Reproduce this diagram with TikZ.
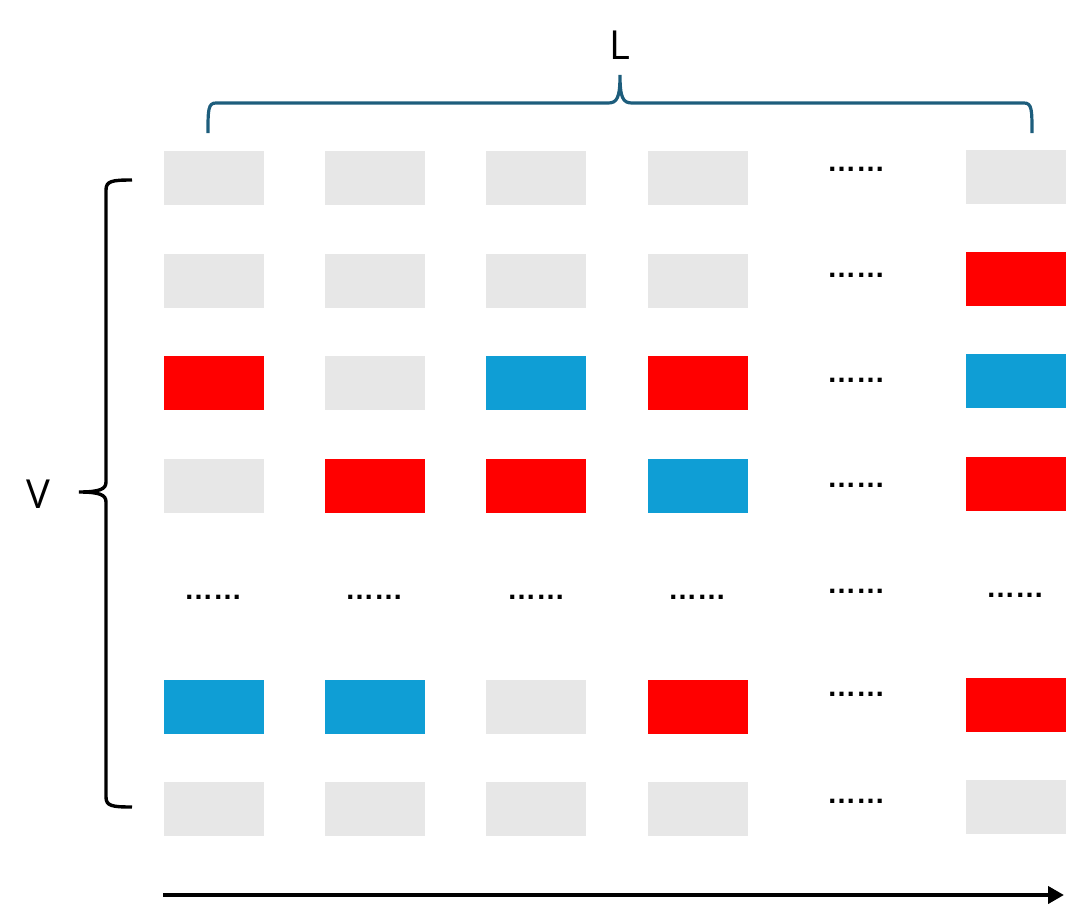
\documentclass[tikz,border=0pt]{standalone}
\usepackage{fontspec}
\setmainfont{Open Sans}
\newfontfamily\dotfont{Liberation Sans}
\usetikzlibrary{arrows.meta}
\definecolor{cellgray}{HTML}{E7E7E7}
\definecolor{cellred}{HTML}{FF0000}
\definecolor{cellblue}{HTML}{0F9ED5}
\definecolor{bracecol}{HTML}{1D5D7C}
\tikzset{
  cell/.style={minimum width=100pt, minimum height=54pt, inner sep=0pt, draw=none},
  g/.style={cell, fill=cellgray},
  r/.style={cell, fill=cellred},
  b/.style={cell, fill=cellblue},
  dots/.style={font=\dotfont\bfseries\fontsize{29}{30}\selectfont, inner sep=0pt, anchor=base},
  lbl/.style={font=\fontsize{40}{44}\selectfont, inner sep=0pt},
}
\begin{document}
\begin{tikzpicture}[x=1pt,y=-1pt]
\useasboundingbox (0,0) rectangle (1080,913);
% columns 1-4
\foreach \c/\x in {1/214,2/375,3/536,4/698}{
  \foreach \rr/\y in {1/178,2/281,3/383,4/486,6/707,7/809}{
    \coordinate (p-\rr-\c) at (\x,\y);
  }
}
\node[g] (c11) at (p-1-1) {}; \node[g] (c12) at (p-1-2) {}; \node[g] (c13) at (p-1-3) {}; \node[g] (c14) at (p-1-4) {};
\node[g] (c21) at (p-2-1) {}; \node[g] (c22) at (p-2-2) {}; \node[g] (c23) at (p-2-3) {}; \node[g] (c24) at (p-2-4) {};
\node[r] (c31) at (p-3-1) {}; \node[g] (c32) at (p-3-2) {}; \node[b] (c33) at (p-3-3) {}; \node[r] (c34) at (p-3-4) {};
\node[g] (c41) at (p-4-1) {}; \node[r] (c42) at (p-4-2) {}; \node[r] (c43) at (p-4-3) {}; \node[b] (c44) at (p-4-4) {};
\node[b] (c61) at (p-6-1) {}; \node[b] (c62) at (p-6-2) {}; \node[g] (c63) at (p-6-3) {}; \node[r] (c64) at (p-6-4) {};
\node[g] (c71) at (p-7-1) {}; \node[g] (c72) at (p-7-2) {}; \node[g] (c73) at (p-7-3) {}; \node[g] (c74) at (p-7-4) {};
% last column
\node[g] (c16) at (1015.5,176.5) {};
\node[r] (c26) at (1015.5,279) {};
\node[b] (c36) at (1015.5,381) {};
\node[r] (c46) at (1015.5,484) {};
\node[r] (c66) at (1015.5,705) {};
\node[g] (c76) at (1015.5,807) {};
% dots column 5
\node[dots] (d15) at (856,171) {……};
\node[dots] (d25) at (856,277) {……};
\node[dots] (d35) at (856,382) {……};
\node[dots] (d45) at (856,487) {……};
\node[dots] (d55) at (856,593) {……};
\node[dots] (d65) at (856,696) {……};
\node[dots] (d75) at (856,803) {……};
% dots row 5
\node[dots] (d51) at (213,599) {……};
\node[dots] (d52) at (374,599) {……};
\node[dots] (d53) at (536,599) {……};
\node[dots] (d54) at (697,599) {……};
\node[dots] (d56) at (1015,597) {……};
% top brace
\coordinate (tl) at (208,133);
\coordinate (tm) at (620,75);
\coordinate (tr) at (1032,133);
\draw[bracecol, line width=3.2pt]
  (tl) .. controls (208,110) and (208,103) .. (216,103) -- (608,103)
  .. controls (617,103) and (620,98) .. (tm)
  .. controls (620,98) and (623,103) .. (632,103) -- (1024,103)
  .. controls (1032,103) and (1032,110) .. (tr);
\node[lbl] (L) at (620,45) {L};
% left brace
\coordinate (lt) at (132,180);
\coordinate (lm) at (79,492);
\coordinate (lb) at (132,807);
\draw[black, line width=3.4pt]
  (lt) .. controls (112,180) and (106,181) .. (106,190) -- (106,482)
  .. controls (106,489) and (100,492) .. (lm)
  .. controls (100,492) and (106,495) .. (106,502) -- (106,797)
  .. controls (106,806) and (112,807) .. (lb);
\node[lbl] (V) at (38,494) {V};
% arrow
\coordinate (as) at (163,895);
\coordinate (ae) at (1064,895);
\draw[line width=4.6pt, -{Triangle[length=16pt,width=17pt]}] (as) -- (ae);
\end{tikzpicture}
\end{document}
